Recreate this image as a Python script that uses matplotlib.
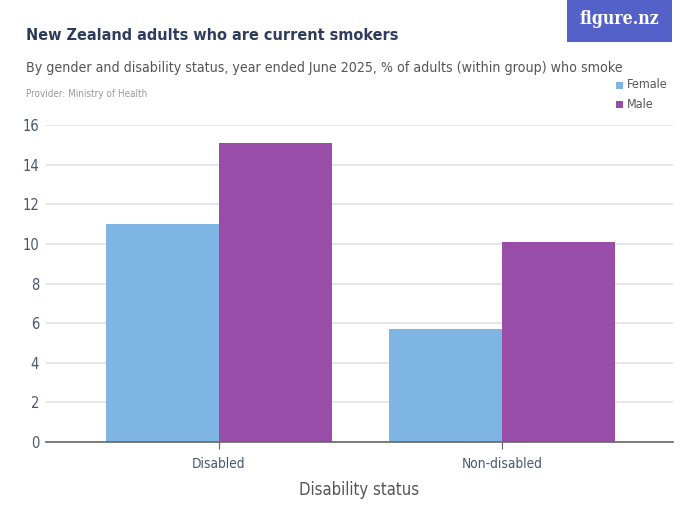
import matplotlib
matplotlib.use("Agg")
import matplotlib.pyplot as plt
from matplotlib.patches import Rectangle
import numpy as np

categories = ["Disabled", "Non-disabled"]
series_names = ["Female", "Male"]
female = [11.0, 5.7]
male = [15.1, 10.1]
yticks = [0, 2, 4, 6, 8, 10, 12, 14, 16]

colors = {"Female": "#7fb5e3", "Male": "#984ea9"}
plt.rcParams['font.family'] = ["DejaVu Sans"]
plt.rcParams['font.stretch'] = "condensed"

fig = plt.figure(figsize=(7, 5.25), dpi=100)
ax = fig.add_axes([46/700, 1-442/525, (673-46)/700, (442-125)/525])

x = np.arange(len(categories))
w = 0.4
ax.bar(x - w/2, female, width=w, color=colors["Female"], zorder=2)
ax.bar(x + w/2, male, width=w, color=colors["Male"], zorder=2)

ax.set_xlim(-0.611, 1.604)
ax.set_ylim(0, 16)
ax.set_yticks(yticks)
ax.set_yticklabels([str(t) for t in yticks], fontsize=10.5, color="#4a5670")
ax.set_xticks(x)
ax.set_xticklabels(categories, fontsize=9.8, color="#4a5670")
ax.tick_params(axis='y', length=0, pad=5)
ax.tick_params(axis='x', length=5, color="#666666", pad=6)
ax.grid(axis='y', color="#e2e2e2", linewidth=1.2, zorder=0)
for s in ["top", "right", "left"]:
    ax.spines[s].set_visible(False)
ax.spines["bottom"].set_color("#666666")
ax.spines["bottom"].set_linewidth(1.2)
ax.spines["bottom"].set_zorder(3)
ax.set_xlabel("Disability status", fontsize=12, color="#555555", labelpad=7)

renderer = fig.canvas.get_renderer()

def fit(t, target_px):
    for _ in range(3):
        bb = t.get_window_extent(renderer=renderer)
        t.set_fontsize(t.get_fontsize() * target_px / bb.width)
    return t

fit(fig.text(26/700, 1-36/525, "New Zealand adults who are current smokers", fontsize=15,
             fontweight="bold", color="#2e3b5c", va="center", ha="left"), 372)
fit(fig.text(26/700, 1-68/525, "By gender and disability status, year ended June 2025, % of adults (within group) who smoke",
             fontsize=12, color="#555555", va="center", ha="left"), 596)
fit(fig.text(26/700, 1-94/525, "Provider: Ministry of Health", fontsize=8, color="#999999",
             va="center", ha="left"), 120)

# logo
fig.patches.append(Rectangle((567/700, 1-42/525), 105/700, 42/525, transform=fig.transFigure,
                             facecolor="#5461c8", edgecolor="none"))
fit(fig.text(619/700, 1-19/525, "figure.nz", fontsize=14, color="white", family="DejaVu Serif",
             fontweight="bold", va="center", ha="center"), 80)

# legend
for i, (name, c) in enumerate(zip(series_names, [colors["Female"], colors["Male"]])):
    yy = 1 - (85 + 19*i)/525
    fig.patches.append(Rectangle((616/700, yy - 3.5/525), 7/700, 7/525, transform=fig.transFigure,
                                 facecolor=c, edgecolor="none"))
    fig.text(627/700, yy, name, fontsize=9, color="#555555", va="center", ha="left")

fig.savefig("out.png", dpi=100)
